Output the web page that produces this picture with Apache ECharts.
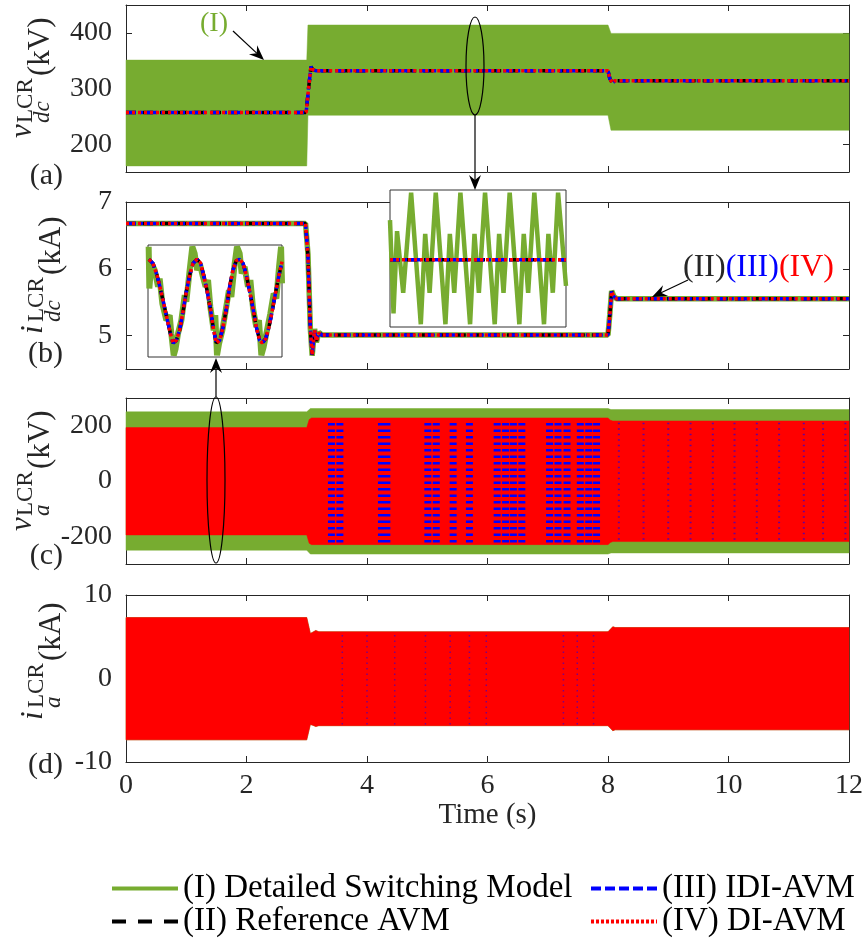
<!DOCTYPE html>
<html>
<head>
<meta charset="utf-8">
<script src="https://cdn.jsdelivr.net/npm/echarts@6/dist/echarts.min.js"></script>
<style>
  html, body { margin: 0; padding: 0; background: #fff; }
  #chart { width: 867px; height: 946px; }
</style>
</head>
<body>
<div id="chart"></div>
<script>
// ---------------- data ----------------
const timeLimits = [0, 12];

// (a) v_dc (kV): switching model envelope + AVM trace
const vdcTicks = [200, 300, 400];
const vdcBandT = [0, 3.0, 3.02, 8.0, 8.05, 12];
const vdcBandHi = [351, 351, 414, 414, 399, 399];
const vdcBandLo = [161, 161, 252, 252, 225, 225];
const vdcAvmT = [0, 2.99, 3.03, 3.07, 3.1, 3.15, 8.0, 8.03, 8.07, 8.12, 12];
const vdcAvm = [257, 257, 300, 339, 334, 332, 332, 318, 310, 314, 314];

// (b) i_dc (kA)
const idcTicks = [5, 6, 7];
const idcT = [0, 2.98, 3.02, 3.06, 3.09, 3.13, 3.16, 3.2, 3.25, 8.0, 8.03, 8.06, 8.1, 8.15, 12];
const idcDsm = [6.68, 6.68, 6.22, 5.1, 4.7, 5.1, 4.9, 5.05, 5.01, 5.01, 5.32, 5.67, 5.58, 5.55, 5.55];
const idcAvm = [6.68, 6.68, 6.2, 5.1, 4.71, 5.08, 4.92, 5.04, 5.01, 5.01, 5.3, 5.66, 5.58, 5.55, 5.55];

// (c) v_a (kV): envelopes
const vaTicks = [-200, 0, 200];
const vaDsmT = [0, 3.0, 3.06, 8.0, 8.05, 12];
const vaDsmHi = [250, 250, 262, 262, 258, 258];
const vaDsmLo = [-250, -250, -264, -264, -260, -260];
const vaAvmT = [0, 3.0, 3.04, 3.08, 8.0, 8.04, 8.08, 12];
const vaAvmHi = [193, 193, 222, 228, 228, 220, 217, 217];
const vaAvmLo = [-195, -195, -225, -230, -230, -222, -219, -219];
const vaStripeT = [3.41, 3.55, 4.24, 4.33, 5.01, 5.15, 5.43, 5.70, 6.16, 6.30, 6.43, 6.57, 7.03, 7.17, 7.32, 7.54, 7.68, 7.81];
const vaStripeSpan = [-222, 222];
const vaFaintT = [8.18, 8.59, 9.00, 9.37, 9.74, 10.10, 10.47, 10.84, 11.25, 11.57, 11.94];
const vaFaintSpan = [-212, 212];

// (d) i_a (kA): envelopes
const iaTicks = [-10, 0, 10];
const iaT = [0, 3.0, 3.06, 3.1, 3.15, 3.2, 8.0, 8.04, 8.08, 8.12, 12];
const iaHi = [7.3, 7.3, 5.4, 5.55, 5.75, 5.6, 5.6, 5.9, 6.2, 6.1, 6.1];
const iaLo = [-7.35, -7.35, -5.5, -5.6, -5.75, -5.65, -5.65, -5.95, -6.25, -6.15, -6.15];
const iaFaintT = [3.59, 4.0, 4.46, 4.97, 5.38, 5.70, 5.98, 7.26, 7.49, 7.76];
const iaFaintSpan = [-5.5, 5.5];

// inset 1 (zoom on i_dc ripple), normalised box units
const in1AvmU = [0.007, 0.037, 0.067, 0.092, 0.117, 0.142, 0.167, 0.187, 0.211, 0.236, 0.261, 0.286, 0.311, 0.336, 0.366, 0.391, 0.415, 0.440, 0.465, 0.490, 0.510, 0.535, 0.560, 0.585, 0.609, 0.634, 0.659, 0.684, 0.709, 0.734, 0.759, 0.784, 0.808, 0.833, 0.853, 0.878, 0.903, 0.928, 0.953, 0.978, 1.0];
const in1Avm = [0.872, 0.836, 0.731, 0.612, 0.478, 0.343, 0.209, 0.125, 0.149, 0.239, 0.403, 0.582, 0.731, 0.836, 0.872, 0.842, 0.731, 0.597, 0.433, 0.239, 0.125, 0.149, 0.269, 0.433, 0.627, 0.776, 0.860, 0.872, 0.836, 0.731, 0.582, 0.433, 0.269, 0.149, 0.125, 0.164, 0.269, 0.418, 0.582, 0.731, 0.851];
const in1DsmU = [0.005, 0.010, 0.025, 0.050, 0.075, 0.087, 0.107, 0.137, 0.162, 0.174, 0.192, 0.206, 0.224, 0.249, 0.274, 0.286, 0.311, 0.331, 0.348, 0.366, 0.386, 0.410, 0.430, 0.448, 0.465, 0.490, 0.502, 0.515, 0.530, 0.555, 0.580, 0.604, 0.622, 0.647, 0.664, 0.684, 0.699, 0.721, 0.746, 0.764, 0.784, 0.808, 0.828, 0.846, 0.863, 0.888, 0.913, 0.938, 0.958, 0.978, 0.993, 1.0];
const in1Dsm = [0.985, 0.612, 0.836, 0.776, 0.627, 0.701, 0.478, 0.328, 0.373, 0.209, 0.015, 0.075, 0.209, 0.328, 0.552, 0.493, 0.776, 0.985, 0.925, 0.776, 0.836, 0.716, 0.627, 0.687, 0.448, 0.239, 0.373, 0.015, 0.119, 0.239, 0.418, 0.597, 0.537, 0.836, 0.985, 0.925, 0.746, 0.806, 0.627, 0.687, 0.433, 0.269, 0.328, 0.015, 0.090, 0.239, 0.388, 0.567, 0.522, 0.806, 0.985, 0.657];

// inset 2 (zoom on v_dc ripple), normalised box units
const in2DsmU = [0.000, 0.020, 0.040, 0.075, 0.120, 0.175, 0.200, 0.225, 0.260, 0.315, 0.340, 0.365, 0.400, 0.455, 0.480, 0.505, 0.540, 0.595, 0.620, 0.645, 0.680, 0.735, 0.760, 0.785, 0.820, 0.875, 0.900, 0.925, 0.955, 1.000];
const in2Dsm = [0.78, 0.10, 0.70, 0.25, 0.98, 0.02, 0.68, 0.25, 0.98, 0.02, 0.68, 0.25, 0.98, 0.02, 0.68, 0.25, 0.98, 0.02, 0.68, 0.25, 0.98, 0.02, 0.68, 0.25, 0.98, 0.02, 0.68, 0.25, 0.98, 0.30];
const in2AvmU = [0, 1];
const in2Avm = [0.49, 0.49];

// ---------------- style ----------------
const FONT = '"Liberation Serif", "Times New Roman", serif';
const GREEN = '#77ac30', BLUE = '#0000ff', RED = '#ff0000', BLACK = '#000000', AXIS = '#262626';
const N1 = '(I) Detailed Switching Model';
const N2 = '(II) Reference AVM';
const N3 = '(III) IDI-AVM';
const N4 = '(IV) DI-AVM';
const DASH2 = [10, 7], DASH3 = [10, 4, 3, 4], DASH4 = [3, 3];

const chart = echarts.init(document.getElementById('chart'), null, { renderer: 'canvas' });

const zip = (t, v) => t.map((x, i) => [x, v[i]]);

function line(ax, name, t, v, color, width, type, z) {
  return {
    type: 'line', name, xAxisIndex: ax, yAxisIndex: ax, data: zip(t, v),
    symbol: 'none', showSymbol: false, silent: true, z,
    lineStyle: { color, width, type }, itemStyle: { color }
  };
}

// filled envelope between lo and hi, drawn once as a polygon through the axis scales
function band(ax, name, t, lo, hi, color, z) {
  return {
    type: 'custom', name, xAxisIndex: ax, yAxisIndex: ax, z, silent: true,
    data: t.map((x, i) => [x, lo[i], hi[i]]),
    renderItem(params, api) {
      if (params.dataIndex !== 0) return;
      const pts = [];
      for (let i = 0; i < t.length; i++) pts.push(api.coord([t[i], hi[i]]));
      for (let i = t.length - 1; i >= 0; i--) pts.push(api.coord([t[i], lo[i]]));
      return { type: 'polygon', shape: { points: pts }, style: { fill: color, stroke: color, lineWidth: 0.5 } };
    }
  };
}

// vertical dashed stripes (blue trace showing through the red band)
function stripes(ax, name, t, span, width, dash, opacity, z) {
  return {
    type: 'line', name, xAxisIndex: ax, yAxisIndex: ax, symbol: 'none', silent: true, z,
    connectNulls: false,
    data: t.flatMap(x => [[x, span[0]], [x, span[1]], [x, null]]),
    lineStyle: { color: BLUE, width, type: dash, opacity }
  };
}

const panels = [
  { top: 5, height: 167, lim: [150, 450], ticks: vdcTicks },
  { top: 202, height: 167, lim: [4.5, 7], ticks: idcTicks },
  { top: 398, height: 166, lim: [-300, 300], ticks: vaTicks },
  { top: 595, height: 167, lim: [-10, 10], ticks: iaTicks }
];

const grid = [], xAxis = [], yAxis = [];
panels.forEach((p, i) => {
  grid.push({ left: 126, right: 18, top: p.top, height: p.height, show: false });
  ['bottom', 'top'].forEach((pos, k) => {
    xAxis.push({
      type: 'value', gridIndex: i, position: pos, min: timeLimits[0], max: timeLimits[1], interval: 2,
      axisLine: { show: true, onZero: false, lineStyle: { color: AXIS, width: 1 } },
      axisTick: { show: true, inside: true, length: 6, lineStyle: { color: AXIS } },
      axisLabel: { show: i === 3 && k === 0, fontFamily: FONT, fontSize: 28, color: AXIS, margin: 10 },
      splitLine: { show: false },
      name: i === 3 && k === 0 ? 'Time (s)' : '',
      nameLocation: 'middle', nameGap: 29,
      nameTextStyle: { fontFamily: FONT, fontSize: 29, color: AXIS }
    });
  });
  ['left', 'right'].forEach((pos, k) => {
    yAxis.push({
      type: 'value', gridIndex: i, position: pos, min: p.lim[0], max: p.lim[1],
      axisLine: { show: true, onZero: false, lineStyle: { color: AXIS, width: 1 } },
      axisTick: { show: true, inside: true, length: 6, customValues: p.ticks, lineStyle: { color: AXIS } },
      axisLabel: { show: k === 0, customValues: p.ticks, fontFamily: FONT, fontSize: 28, color: AXIS, margin: 14 },
      splitLine: { show: false }
    });
  });
});

// inset boxes
const insets = [
  { left: 148, top: 245, width: 134, height: 112 },
  { left: 390, top: 190, width: 176, height: 137 }
];
insets.forEach((b, k) => {
  grid.push(Object.assign({ show: true, borderColor: '#333', borderWidth: 1, backgroundColor: '#fff', z: 10 }, b));
  xAxis.push({ type: 'value', gridIndex: 4 + k, min: 0, max: 1, show: false });
  yAxis.push({ type: 'value', gridIndex: 4 + k, min: 0, max: 1, show: false });
});

// panel i uses xAxis/yAxis 2i ; insets use 8 and 9
const series = [
  // (b) first so the legend takes its styles
  line(2, N1, idcT, idcDsm, GREEN, 5.5, 'solid', 2),
  line(2, N2, idcT, idcAvm, BLACK, 3.5, DASH2, 3),
  line(2, N3, idcT, idcAvm, BLUE, 3.5, DASH3, 4),
  line(2, N4, idcT, idcAvm, RED, 3.5, DASH4, 5),
  // (a)
  band(0, 'a-dsm', vdcBandT, vdcBandLo, vdcBandHi, GREEN, 2),
  line(0, 'a-ref', vdcAvmT, vdcAvm, BLACK, 3.5, DASH2, 3),
  line(0, 'a-idi', vdcAvmT, vdcAvm, BLUE, 3.5, DASH3, 4),
  line(0, 'a-di', vdcAvmT, vdcAvm, RED, 3.5, DASH4, 5),
  // (c)
  band(4, 'c-dsm', vaDsmT, vaDsmLo, vaDsmHi, GREEN, 2),
  band(4, 'c-di', vaAvmT, vaAvmLo, vaAvmHi, RED, 5),
  stripes(4, 'c-idi', vaStripeT, vaStripeSpan, 7, [2.5, 4], 1, 6),
  stripes(4, 'c-idi-faint', vaFaintT, vaFaintSpan, 2, [1.5, 4], 0.6, 6),
  // (d)
  band(6, 'd-dsm', iaT, iaLo, iaHi, GREEN, 2),
  band(6, 'd-di', iaT, iaLo, iaHi, RED, 5),
  stripes(6, 'd-idi-faint', iaFaintT, iaFaintSpan, 1.5, [1.5, 4], 0.5, 6),
  // inset 1
  line(8, 'i1-dsm', in1DsmU, in1Dsm, GREEN, 6, 'solid', 11),
  line(8, 'i1-ref', in1AvmU, in1Avm, BLACK, 3.5, DASH2, 12),
  line(8, 'i1-idi', in1AvmU, in1Avm, BLUE, 3.5, DASH3, 13),
  line(8, 'i1-di', in1AvmU, in1Avm, RED, 3.5, DASH4, 14),
  // inset 2
  line(9, 'i2-dsm', in2DsmU, in2Dsm, GREEN, 4.5, 'solid', 11),
  line(9, 'i2-ref', in2AvmU, in2Avm, BLACK, 3.5, DASH2, 12),
  line(9, 'i2-idi', in2AvmU, in2Avm, BLUE, 3.5, DASH3, 13),
  line(9, 'i2-di', in2AvmU, in2Avm, RED, 3.5, DASH4, 14)
];

const legendText = { fontFamily: FONT, fontSize: 33, color: '#000', lineHeight: 33 };
const legendBase = {
  orient: 'vertical', itemGap: 0, itemWidth: 66, itemHeight: 14, selectedMode: false,
  textStyle: legendText, itemStyle: { opacity: 0 }
};
const legend = [
  Object.assign({}, legendBase, {
    left: 105, top: 867,
    data: [
      { name: N1, lineStyle: { width: 4, color: GREEN, type: 'solid' } },
      { name: N2, lineStyle: { width: 4, color: BLACK, type: [14, 12] } }
    ]
  }),
  Object.assign({}, legendBase, {
    left: 584, top: 867,
    data: [
      { name: N3, lineStyle: { width: 4, color: BLUE, type: [10, 4] } },
      { name: N4, lineStyle: { width: 4, color: RED, type: [3, 2] } }
    ]
  })
];

// ---------------- annotations ----------------
function ylab(y0, main, sub, unit, base) {
  const wMain = main === 'v' ? 14 : 11;
  const mk = (x, y, text, font) => ({
    type: 'text', x, y,
    style: { text, font, fill: AXIS, align: 'left', verticalAlign: 'bottom', textAlign: 'left', textVerticalAlign: 'bottom' }
  });
  return {
    type: 'group', x: 0, y: y0, rotation: Math.PI / 2, z: 30,
    children: [
      mk(0, base + 6, main, 'italic 31px ' + FONT),
      mk(wMain + 1, base + 5, 'LCR', '23px ' + FONT),
      mk(wMain + 1, base + 22, sub, 'italic 23px ' + FONT),
      mk(wMain + 48, base + 24, '(' + unit + ')', '31px ' + FONT)
    ]
  };
}

function arrow(x1, y1, x2, y2) {
  const a = Math.atan2(y2 - y1, x2 - x1), L = 15, W = 6, N = 5;
  const ca = Math.cos(a), sa = Math.sin(a);
  const bx = x2 - L * ca, by = y2 - L * sa;
  return [
    { type: 'line', z: 30, shape: { x1, y1, x2: x2 - (L - N) * ca, y2: y2 - (L - N) * sa }, style: { stroke: '#000', lineWidth: 1.2 } },
    { type: 'polygon', z: 30, shape: { points: [[x2, y2], [bx - W * sa, by + W * ca], [x2 - (L - N) * ca, y2 - (L - N) * sa], [bx + W * sa, by - W * ca]] }, style: { fill: '#000' } }
  ];
}

const panelTag = (text, y) => ({
  type: 'text', x: 63, y, z: 30,
  style: { text, font: '30px ' + FONT, fill: AXIS, align: 'right', verticalAlign: 'middle', textAlign: 'right', textVerticalAlign: 'middle' }
});

const graphic = [
  ylab(138, 'v', 'dc', 'kV', 32),
  ylab(334, 'i', 'dc', 'kA', 43),
  ylab(531, 'v', 'a', 'kV', 32),
  ylab(720, 'i', 'a', 'kA', 43),
  panelTag('(a)', 176),
  panelTag('(b)', 354),
  panelTag('(c)', 556),
  panelTag('(d)', 765),
  { type: 'ellipse', z: 30, shape: { cx: 475, cy: 66, rx: 9, ry: 49 }, style: { fill: 'none', stroke: '#000', lineWidth: 1.2 } },
  ...arrow(475, 115, 475, 190),
  { type: 'ellipse', z: 30, shape: { cx: 216, cy: 480, rx: 9, ry: 83 }, style: { fill: 'none', stroke: '#000', lineWidth: 1.2 } },
  ...arrow(216, 397, 216, 358),
  {
    type: 'text', x: 200, y: 24, z: 30,
    style: { text: '(I)', font: '28px ' + FONT, fill: GREEN, align: 'left', verticalAlign: 'middle', textAlign: 'left', textVerticalAlign: 'middle' }
  },
  ...arrow(233, 31, 264, 60),
  {
    type: 'text', x: 683, y: 268, z: 30,
    style: {
      text: '{a|(II)}{b|(III)}{c|(IV)}', font: '32px ' + FONT, align: 'left', verticalAlign: 'middle',
      textAlign: 'left', textVerticalAlign: 'middle',
      rich: {
        a: { fill: AXIS, color: AXIS, fontFamily: FONT, fontSize: 32 },
        b: { fill: BLUE, color: BLUE, fontFamily: FONT, fontSize: 32 },
        c: { fill: RED, color: RED, fontFamily: FONT, fontSize: 32 }
      }
    }
  },
  ...arrow(688, 280, 652, 297)
];

chart.setOption({
  animation: false,
  backgroundColor: '#fff',
  grid, xAxis, yAxis, series, legend, graphic
});
</script>
</body>
</html>
